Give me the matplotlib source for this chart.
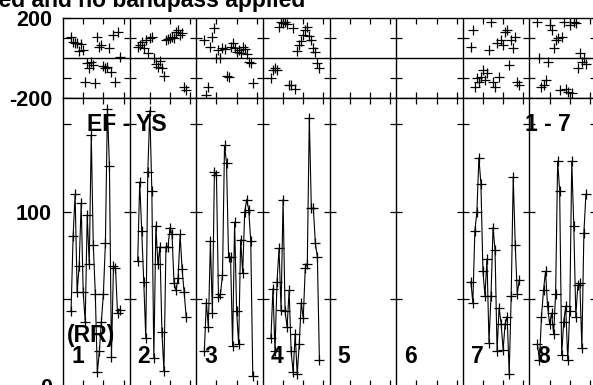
import numpy as np
import matplotlib
matplotlib.use("Agg")
import matplotlib.pyplot as plt

plt.rcParams['font.family'] = ['Liberation Sans', 'DejaVu Sans']
plt.rcParams['font.weight'] = 'bold'

# channel layout: 33 channel units per IF panel, data in channels 4..28
nchan = 33
channels = np.arange(4, 29)
panel_ids = [1, 2, 3, 4, 7, 8]

amp_1 = [43, 86, 110, 54, 69, 105, 54, 37, 98, 70, 144, 81, 53, 8, 20, 37, 53, 82, 159, 126, 17, 69, 68, 42, 44]
amp_2 = [72, 117, 89, 60, 28, 123, 158, 112, 16, 92, 70, 80, 31, 9, 80, 80, 91, 87, 59, 55, 62, 87, 67, 54, 40]
amp_3 = [20, 48, 34, 83, 42, 123, 121, 51, 53, 64, 138, 128, 74, 74, 23, 94, 43, 24, 84, 65, 100, 107, 101, 83, 6]
amp_4 = [28, 56, 20, 60, 79, 44, 107, 43, 34, 55, 20, 8, 30, 7, 24, 48, 39, 68, 70, 154, 102, 102, 82, 74, 15]
amp_7 = [60, 48, 89, 100, 131, 116, 66, 52, 73, 25, 52, 91, 78, 20, 45, 36, 21, 36, 40, 7, 52, 120, 81, 53, 61]
amp_8 = [24, 15, 40, 55, 66, 46, 36, 42, 30, 53, 129, 112, 18, 37, 46, 15, 43, 129, 92, 40, 58, 59, 22, 88, 110]

ph_1 = [108, 83, 75, 78, 36, 70, 40, -117, -25, -47, -17, -33, -125, 108, 58, 67, -37, -50, -45, 50, -67, 117, -117, 130, 8]
ph_2 = [58, 67, 83, 53, 92, 25, 100, 108, 0, -30, -42, -12, -50, -87, 92, 95, 100, 108, 100, 133, 142, 117, 125, -142, -160]
ph_3 = [92, -183, -142, 58, 108, 153, 3, 40, 3, 53, 48, -87, -92, 58, 75, 50, 33, 40, 25, 58, 45, 20, -17, -25, -125]
ph_4 = [-100, -58, -50, -58, 158, 183, 175, 183, 170, -133, -133, 153, -153, 37, 67, 87, 117, 142, 158, 113, 92, 50, 30, -25, -50]
ph_7 = [58, 142, -142, -100, -117, -92, -58, -108, -75, 42, 183, -117, -142, 75, -92, 92, 67, 133, 142, -33, 92, 50, 108, -117, -133]
ph_8 = [183, 0, -142, -133, -108, -17, 167, 142, 50, 92, 100, -158, 108, 183, -153, -167, 167, -175, 183, 175, -50, 25, -17, 0, -30]

amps = [amp_1, amp_2, amp_3, amp_4, amp_7, amp_8]
phases = [ph_1, ph_2, ph_3, ph_4, ph_7, ph_8]

W, H = 593, 385
fig = plt.figure(figsize=(W / 100, H / 100), dpi=100)
x0, x1 = 63, 596
ax_ph = fig.add_axes([x0 / W, (H - 98.3) / H, (x1 - x0) / W, 80 / H])
ax_amp = fig.add_axes([x0 / W, (H - 386.4) / H, (x1 - x0) / W, 288.1 / H])

xmax = 8 * nchan
mk = dict(marker='+', markersize=6.5, mew=0.9, color='black')
for pid, a, p in zip(panel_ids, amps, phases):
    xs = (pid - 1) * nchan + channels
    ax_amp.plot(xs, a, lw=0.8, **mk)
    ax_ph.plot(xs, p, lw=0, **mk)

bounds = np.arange(1, 9) * nchan
xt = np.concatenate([i * nchan + np.array([10, 20, 30]) for i in range(8)])
for ax in (ax_ph, ax_amp):
    ax.set_xlim(0, xmax)
    for b in bounds:
        ax.axvline(b, color='black', lw=1.0)
    for s in ax.spines.values():
        s.set_linewidth(1.0)
    ax.set_xticks(xt)
    ax.set_xticklabels([])
    ax.tick_params(axis='x', which='both', direction='in', top=True, bottom=True, length=4, width=0.9)
    ax.tick_params(axis='y', which='both', direction='in', left=True, right=False, length=6, width=0.9,
                   labelsize=15.5, pad=8)

ax_ph.set_ylim(-200, 200)
ax_ph.axhline(0, color='black', lw=1.0)
ax_ph.set_yticks([-200, 200])
ax_ph.set_yticklabels(['-200', '200'], fontweight='bold')
ax_ph.set_yticks([-100, 100], minor=True)
for b in bounds:
    ax_ph.plot([b, b], [-100, 100], ls='none', marker='_', markersize=8, mew=0.9, color='black')

ax_amp.set_ylim(0, 165)
ax_amp.set_yticks([0, 100])
ax_amp.set_yticklabels(['0', '100'], fontweight='bold')
ax_amp.set_yticks([50, 150], minor=True)
for b in bounds:
    ax_amp.plot([b] * 3, [50, 100, 150], ls='none', marker='_', markersize=9, mew=0.9, color='black')

tk = dict(fontsize=16.5, fontweight='bold', va='center', ha='left')
ax_amp.text(11.9, 150, 'EF - YS', **tk)
ax_amp.text(228.7, 150, '1 - 7', **tk)
ax_amp.text(2, 29, '(RR)', **tk)
for i in range(8):
    ax_amp.text(i * nchan + 4, 17, str(i + 1), **tk)

fig.text(305 / W, (H - 7) / H, 'Calibration not applied and no bandpass applied',
         fontsize=16.5, fontweight='bold', ha='right', va='baseline')

fig.savefig('out.png', dpi=100)
